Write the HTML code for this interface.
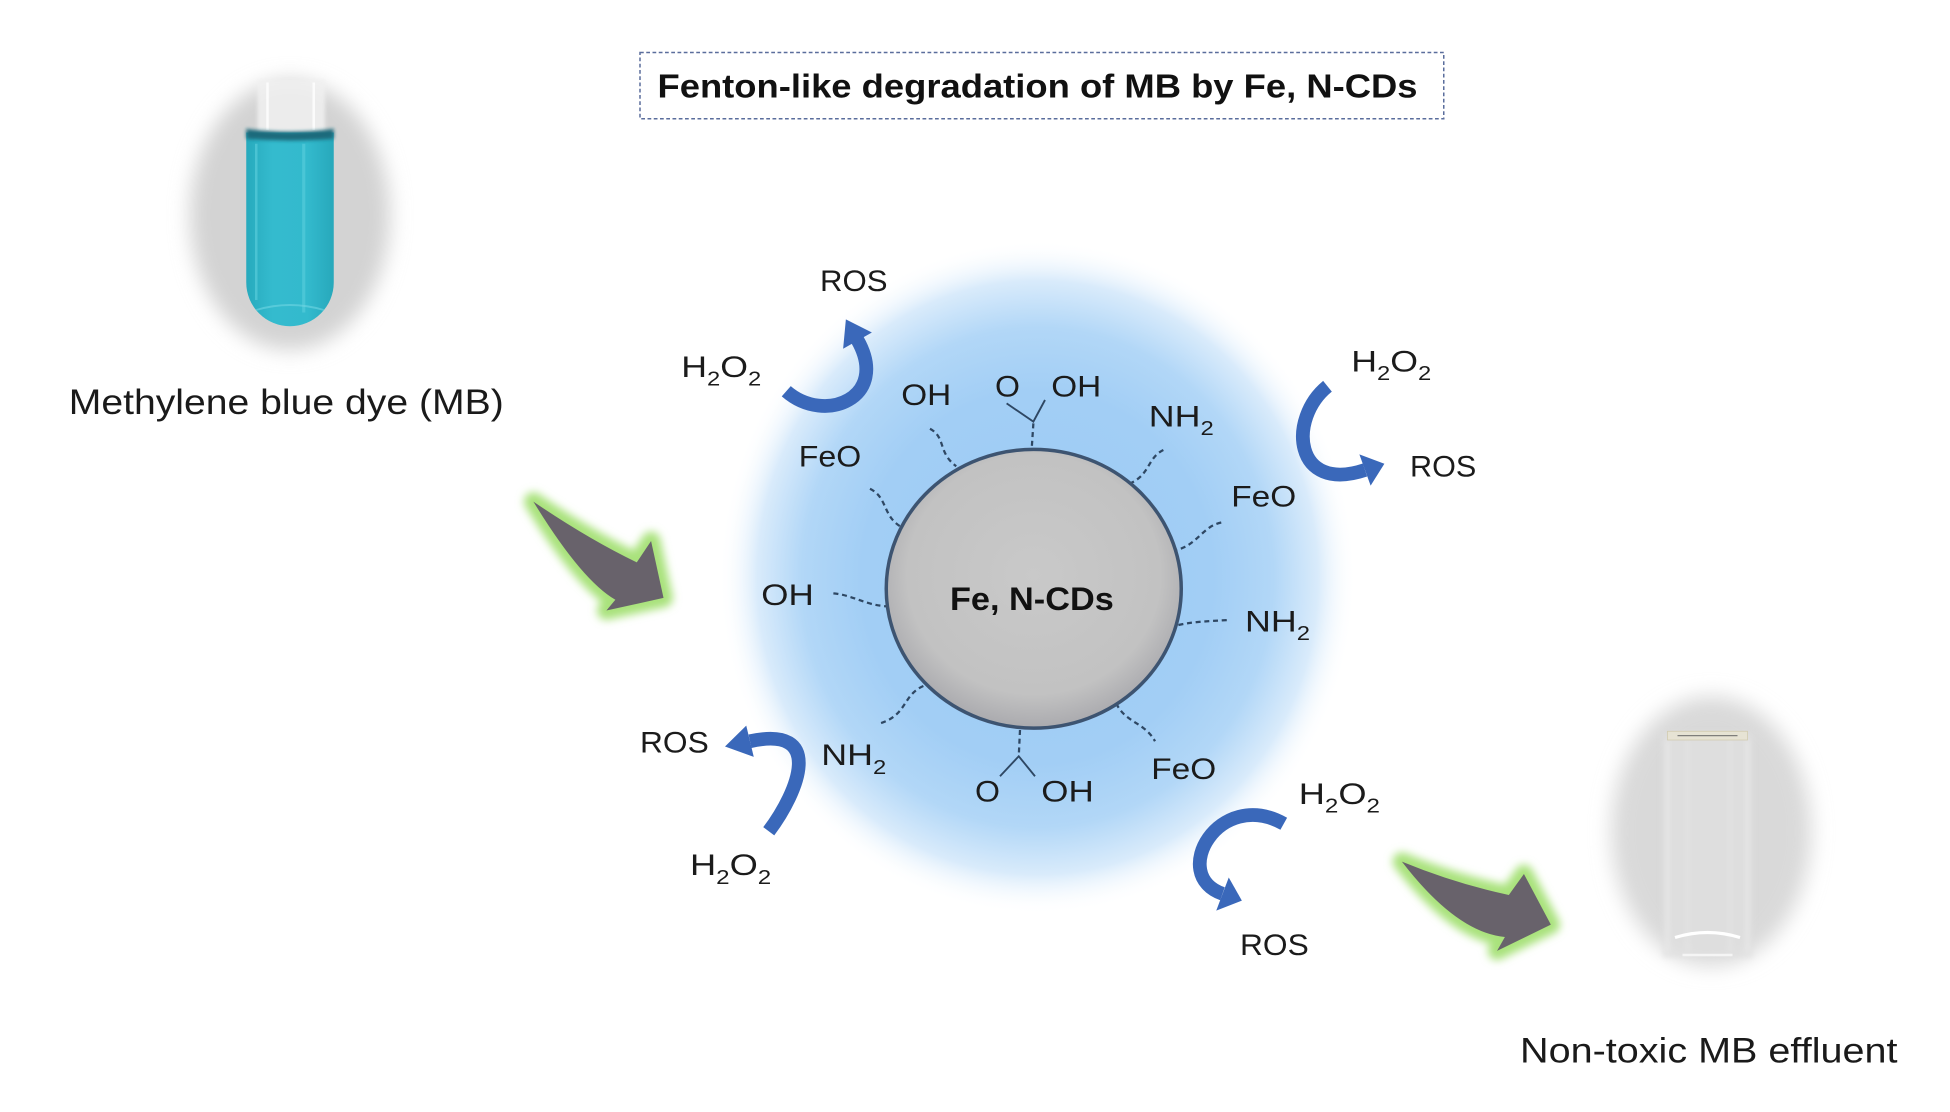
<!DOCTYPE html>
<html>
<head>
<meta charset="utf-8">
<style>
  html,body{margin:0;padding:0;background:#ffffff;}
  svg{display:block;}
  .lbl{font-family:"Liberation Sans",sans-serif;font-size:24px;fill:#1b1b1b;}
</style>
</head>
<body>
<svg width="1950" height="1112" viewBox="0 0 1560 889.6" xmlns="http://www.w3.org/2000/svg">
  <defs>
    <radialGradient id="glow" cx="0.5" cy="0.5" r="0.5">
      <stop offset="0" stop-color="#9ccaf4"/>
      <stop offset="0.55" stop-color="#a2cef5"/>
      <stop offset="0.74" stop-color="#b2d7f7"/>
      <stop offset="0.88" stop-color="#d9ebfb"/>
      <stop offset="1" stop-color="#ffffff" stop-opacity="0"/>
    </radialGradient>
    <radialGradient id="disk" cx="0.5" cy="0.45" r="0.55">
      <stop offset="0" stop-color="#c9c9c9"/>
      <stop offset="0.78" stop-color="#c2c2c2"/>
      <stop offset="1" stop-color="#aaaaae"/>
    </radialGradient>
    <linearGradient id="tubeG" x1="0" x2="1" y1="0" y2="0">
      <stop offset="0" stop-color="#27aabd"/>
      <stop offset="0.3" stop-color="#34bbce"/>
      <stop offset="0.7" stop-color="#33bacd"/>
      <stop offset="1" stop-color="#27a8bb"/>
    </linearGradient>
    <filter id="blurOval" x="-30%" y="-30%" width="160%" height="160%">
      <feGaussianBlur stdDeviation="8"/>
    </filter>
    <filter id="blurG" x="-30%" y="-30%" width="160%" height="160%">
      <feGaussianBlur stdDeviation="3.2"/>
    </filter>
    <filter id="blurS" x="-30%" y="-30%" width="160%" height="160%">
      <feGaussianBlur stdDeviation="1.5"/>
    </filter>
    <filter id="blurT" x="-30%" y="-30%" width="160%" height="160%">
      <feGaussianBlur stdDeviation="2.2"/>
    </filter>
  </defs>

  <rect x="0" y="0" width="1560" height="889.6" fill="#ffffff"/>

  <!-- Title box -->
  <rect x="512" y="42" width="643" height="53" fill="#ffffff" stroke="#5a6d9c" stroke-width="1.2" stroke-dasharray="3 2"/>
  <text x="526" y="78" font-family="'Liberation Sans',sans-serif" font-weight="bold" font-size="27" fill="#111" textLength="608" lengthAdjust="spacingAndGlyphs">Fenton-like degradation of MB by Fe, N-CDs</text>

  <!-- Left tube photo -->
  <ellipse cx="232" cy="172" rx="80" ry="108" fill="#d3d3d3" filter="url(#blurOval)"/>
  <rect x="206" y="64" width="54" height="42" fill="#f1f1f1" opacity="0.85" filter="url(#blurS)"/>
  <line x1="214" y1="66" x2="214" y2="104" stroke="#ffffff" stroke-width="2" opacity="0.8"/>
  <line x1="251" y1="66" x2="251" y2="104" stroke="#ffffff" stroke-width="2" opacity="0.8"/>
  <path d="M197,106 L197,226 A35,35 0 0 0 267,226 L267,106 Z" fill="url(#tubeG)"/>
  <line x1="205" y1="115" x2="205" y2="240" stroke="#5fd0de" stroke-width="2" opacity="0.6"/>
  <line x1="243" y1="115" x2="243" y2="250" stroke="#62d2e0" stroke-width="2.5" opacity="0.5"/>
  <path d="M205,248 Q232,240 259,248" stroke="#6fd6e2" stroke-width="1.5" fill="none" opacity="0.6"/>
  <path d="M197,103 Q232,108 267,103 L267,111 Q232,114 197,111 Z" fill="#1d6a7c" filter="url(#blurS)"/>

  <text x="55" y="331" font-family="'Liberation Sans',sans-serif" font-size="28" fill="#1a1a1a" textLength="348" lengthAdjust="spacingAndGlyphs">Methylene blue dye (MB)</text>

  <!-- Right tube photo -->
  <ellipse cx="1369" cy="665" rx="80" ry="108" fill="#d9d9d9" filter="url(#blurOval)"/>
  <g filter="url(#blurT)">
    <rect x="1330" y="586" width="72" height="180" fill="#e0e0e0" opacity="0.7"/>
    <line x1="1334" y1="592" x2="1334" y2="762" stroke="#ececec" stroke-width="2"/>
    <line x1="1350" y1="592" x2="1350" y2="762" stroke="#e8e8e8" stroke-width="1.5"/>
    <line x1="1384" y1="592" x2="1384" y2="762" stroke="#e8e8e8" stroke-width="1.5"/>
    <line x1="1398" y1="592" x2="1398" y2="762" stroke="#ececec" stroke-width="2"/>
  </g>
  <rect x="1334" y="585" width="64" height="7" fill="#e8e4d4" stroke="#cfc8a8" stroke-width="0.6" opacity="0.9"/>
  <line x1="1342" y1="588.5" x2="1390" y2="588.5" stroke="#666" stroke-width="1" opacity="0.8"/>
  <path d="M1340,750 Q1366,742 1392,750" stroke="#ffffff" stroke-width="2.5" fill="none"/>
  <path d="M1346,764 L1386,764" stroke="#f5f5f5" stroke-width="2" fill="none"/>

  <text x="1216" y="850" font-family="'Liberation Sans',sans-serif" font-size="28" fill="#1a1a1a" textLength="302" lengthAdjust="spacingAndGlyphs">Non-toxic MB effluent</text>

  <!-- Blue glow -->
  <ellipse cx="830" cy="462" rx="255" ry="270" fill="url(#glow)"/>

  <!-- Dashed connectors -->
  <g stroke="#2e4763" stroke-width="1.8" fill="none" stroke-dasharray="4 3">
    <path d="M744,343 C757,350 750,362 765,373"/>
    <path d="M826.7,338.7 L825.3,360"/>
    <path d="M930.7,360 C918,366 920,380 904,386.7"/>
    <path d="M696,391 C710,398 706,412 720,421"/>
    <path d="M977,418 C962,421 958,436 941,440"/>
    <path d="M666.7,474.7 C682,476 692,484 709,485"/>
    <path d="M942.7,500 C956,497 968,497 982.7,496"/>
    <path d="M738.7,548.8 C722,556 726,572 704,578.7"/>
    <path d="M816,584 L815,605"/>
    <path d="M893,562.7 C900,578 916,578 924,593"/>
  </g>
  <g stroke="#2e4763" stroke-width="1.5" fill="none">
    <path d="M805.3,322.7 L826.7,337.3 L836,320"/>
    <path d="M800,621 L815,605 L828,621"/>
  </g>

  <!-- Central disk -->
  <ellipse cx="827" cy="471" rx="118" ry="111.5" fill="url(#disk)" stroke="#3d5471" stroke-width="2.8"/>
  <text x="760" y="488" font-family="'Liberation Sans',sans-serif" font-weight="bold" font-size="26" fill="#111" textLength="131" lengthAdjust="spacingAndGlyphs">Fe, N-CDs</text>

  <!-- Labels -->
  <text class="lbl" x="656" y="232.6" textLength="54" lengthAdjust="spacingAndGlyphs">ROS</text>
  <text class="lbl" x="545" y="301.5" textLength="64" lengthAdjust="spacingAndGlyphs">H<tspan font-size="16" dy="7">2</tspan><tspan dy="-7">O</tspan><tspan font-size="16" dy="7">2</tspan></text>
  <text class="lbl" x="721" y="324" textLength="40" lengthAdjust="spacingAndGlyphs">OH</text>
  <text class="lbl" x="796" y="317" textLength="20" lengthAdjust="spacingAndGlyphs">O</text>
  <text class="lbl" x="841" y="317" textLength="40" lengthAdjust="spacingAndGlyphs">OH</text>
  <text class="lbl" x="919" y="341" textLength="52" lengthAdjust="spacingAndGlyphs">NH<tspan font-size="16" dy="7">2</tspan></text>
  <text class="lbl" x="639" y="373" textLength="50" lengthAdjust="spacingAndGlyphs">FeO</text>
  <text class="lbl" x="985" y="405" textLength="52" lengthAdjust="spacingAndGlyphs">FeO</text>
  <text class="lbl" x="1081" y="297" textLength="64" lengthAdjust="spacingAndGlyphs">H<tspan font-size="16" dy="7">2</tspan><tspan dy="-7">O</tspan><tspan font-size="16" dy="7">2</tspan></text>
  <text class="lbl" x="1128" y="381" textLength="53" lengthAdjust="spacingAndGlyphs">ROS</text>
  <text class="lbl" x="996" y="505" textLength="52" lengthAdjust="spacingAndGlyphs">NH<tspan font-size="16" dy="7">2</tspan></text>
  <text class="lbl" x="609" y="484" textLength="42" lengthAdjust="spacingAndGlyphs">OH</text>
  <text class="lbl" x="512" y="602" textLength="55" lengthAdjust="spacingAndGlyphs">ROS</text>
  <text class="lbl" x="657" y="612" textLength="52" lengthAdjust="spacingAndGlyphs">NH<tspan font-size="16" dy="7">2</tspan></text>
  <text class="lbl" x="552" y="700" textLength="65" lengthAdjust="spacingAndGlyphs">H<tspan font-size="16" dy="7">2</tspan><tspan dy="-7">O</tspan><tspan font-size="16" dy="7">2</tspan></text>
  <text class="lbl" x="780" y="641" textLength="20" lengthAdjust="spacingAndGlyphs">O</text>
  <text class="lbl" x="833" y="641" textLength="42" lengthAdjust="spacingAndGlyphs">OH</text>
  <text class="lbl" x="921" y="623" textLength="52" lengthAdjust="spacingAndGlyphs">FeO</text>
  <text class="lbl" x="1039" y="643" textLength="65" lengthAdjust="spacingAndGlyphs">H<tspan font-size="16" dy="7">2</tspan><tspan dy="-7">O</tspan><tspan font-size="16" dy="7">2</tspan></text>
  <text class="lbl" x="992" y="764" textLength="55" lengthAdjust="spacingAndGlyphs">ROS</text>

  <!-- Blue curved arrows -->
  <g fill="none" stroke="#3a68ba" stroke-width="11">
    <path d="M629,313 C660,340 712,318 686,272"/>
    <path d="M1062,309 C1030,335 1035,395 1092,376"/>
    <path d="M615,665 C639,633 660,580 600,593"/>
    <path d="M1027,659 C975,630 935,700 978,715"/>
  </g>
  <g fill="#3a68ba">
    <polygon points="697.5,266 674.5,279 676.7,255.5"/>
    <polygon points="1096.5,388.5 1087.5,363.5 1107.5,371"/>
    <polygon points="603,605.5 597,580.5 580,597.2"/>
    <polygon points="973,728.5 983,702 993.5,720.5"/>
  </g>

  <!-- Grey arrows with green glow -->
  <g transform="translate(426.7,401.3) scale(1.07) translate(-426.7,-401.3)">
    <path d="M426.7,401.3 Q468,429.4 504,446.7 L514.7,430.7 L524,473.3 L481.3,482.7 L488,474.7 Q462.6,460 426.7,401.3 Z"
          fill="#a9e27c" stroke="#a9e27c" stroke-width="14" stroke-linejoin="round" filter="url(#blurG)"/>
    <path d="M426.7,401.3 Q468,429.4 504,446.7 L514.7,430.7 L524,473.3 L481.3,482.7 L488,474.7 Q462.6,460 426.7,401.3 Z"
          fill="#68626b"/>
  </g>
  <g transform="translate(1121.5,689.3) scale(1.05) translate(-1121.5,-689.3)">
    <path d="M1121.5,689.3 Q1162,706 1203,714.7 L1214.5,698.7 L1235,737.3 L1194,757.3 L1200,746.7 Q1163.2,743.4 1121.5,689.3 Z"
          fill="#a9e27c" stroke="#a9e27c" stroke-width="14" stroke-linejoin="round" filter="url(#blurG)"/>
    <path d="M1121.5,689.3 Q1162,706 1203,714.7 L1214.5,698.7 L1235,737.3 L1194,757.3 L1200,746.7 Q1163.2,743.4 1121.5,689.3 Z"
          fill="#68626b"/>
  </g>
</svg>
</body>
</html>
